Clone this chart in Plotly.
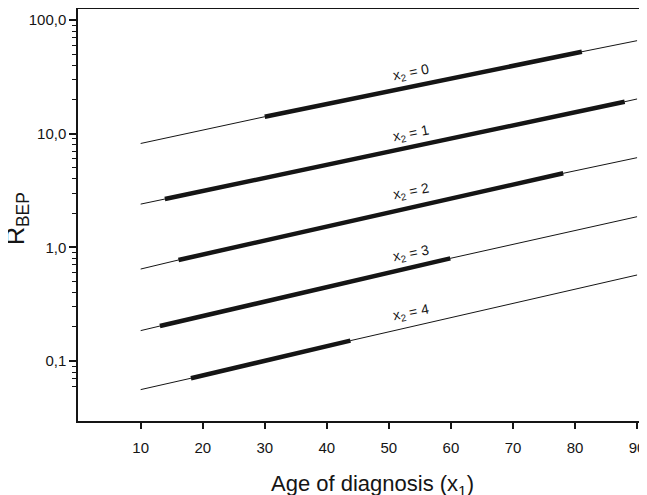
import math
import plotly.graph_objects as go

# ---- data ----
x2_levels = [0, 1, 2, 3, 4]
# age points per line: [line start, thick start, thick end, line end]
ages = [
    [10, 30.0, 81.1, 90],
    [10, 13.9, 88.0, 90],
    [10, 16.1, 78.1, 90],
    [10, 13.1, 59.9, 90],
    [10, 18.1, 43.8, 90],
]
r_bep = [
    [8.2, 14.1, 52.6, 65.8],
    [2.40, 2.66, 19.1, 20.2],
    [0.644, 0.774, 4.48, 6.15],
    [0.185, 0.203, 0.80, 1.86],
    [0.056, 0.0705, 0.151, 0.571],
]
label_x = [53.5, 53.5, 53.5, 53.5, 53.5]
label_y = [34.2, 9.93, 3.09, 0.874, 0.263]

x_ticks = [10, 20, 30, 40, 50, 60, 70, 80, 90]
y_ticks = [0.1, 1, 10, 100]
y_ticktext = ["0,1", "1,0", "10,0", "100,0"]
y_minor = [0.06, 0.07, 0.08, 0.09,
           0.2, 0.3, 0.4, 0.5, 0.6, 0.7, 0.8, 0.9,
           2, 3, 4, 5, 6, 7, 8, 9,
           20, 30, 40, 50, 60, 70, 80, 90]

FONT = "Liberation Sans, Arial, Helvetica, sans-serif"
INK = "#151515"

# page has an 8px body margin; figure sized so plot area lands where the reference has it
W, H = 639, 487
ML, MR, MT, MB = 70, 0, 1, 74
PW = W - ML - MR
PH = H - MT - MB

fig = go.Figure()
for i, lvl in enumerate(x2_levels):
    fig.add_trace(go.Scatter(x=ages[i], y=r_bep[i], mode="lines",
                             line=dict(color=INK, width=1), showlegend=False,
                             hoverinfo="skip"))
    fig.add_trace(go.Scatter(x=ages[i][1:3], y=r_bep[i][1:3], mode="lines",
                             line=dict(color=INK, width=4.5), showlegend=False,
                             name=f"x2 = {lvl}"))
    # annotations on a log axis take log10 positions
    fig.add_annotation(x=label_x[i], y=math.log10(label_y[i]), xref="x", yref="y",
                       text=f"x<sub>2</sub> = {lvl}", showarrow=False,
                       textangle=-11, font=dict(family=FONT, size=14, color=INK),
                       xanchor="center", yanchor="middle")

# axis titles (positions in page pixels converted to paper coords)
fig.add_annotation(x=(372 - 78) / PW, y=-(485 - 421) / PH, xref="paper", yref="paper",
                   text="Age of diagnosis (x<sub>1</sub>)", showarrow=False,
                   font=dict(family=FONT, size=22, color=INK),
                   xanchor="center", yanchor="middle")
fig.add_annotation(x=-(78 - 17) / PW, y=0.49, xref="paper", yref="paper",
                   text="R<sub>BEP</sub>", showarrow=False, textangle=-90,
                   font=dict(family=FONT, size=25, color=INK),
                   xanchor="center", yanchor="middle")

fig.update_layout(
    width=W, height=H,
    margin=dict(l=ML, r=MR, t=MT, b=MB, autoexpand=False),
    paper_bgcolor="white", plot_bgcolor="white",
    font=dict(family=FONT, color=INK),
    showlegend=False,
)
fig.update_xaxes(
    range=[-0.1, 91.6], tickvals=x_ticks, ticks="outside", ticklen=6, tickwidth=1.5,
    tickcolor=INK, showline=True, linecolor=INK, linewidth=1.5, mirror=True,
    showgrid=False, zeroline=False, tickfont=dict(size=15, family=FONT, color=INK),
    ticklabelstandoff=6, automargin=False,
)
fig.update_yaxes(
    type="log", range=[-1.528, 2.097], tickvals=y_ticks, ticktext=y_ticktext,
    ticks="outside", ticklen=7, tickwidth=1.5, tickcolor=INK,
    showline=True, linecolor=INK, linewidth=1.5, mirror=False,
    showgrid=False, zeroline=False, tickfont=dict(size=15, family=FONT, color=INK),
    automargin=False,
    minor=dict(tickmode="array", tickvals=y_minor, ticks="outside", ticklen=4,
               tickwidth=1.2, tickcolor=INK, showgrid=False),
)

fig.write_html("out.html")
